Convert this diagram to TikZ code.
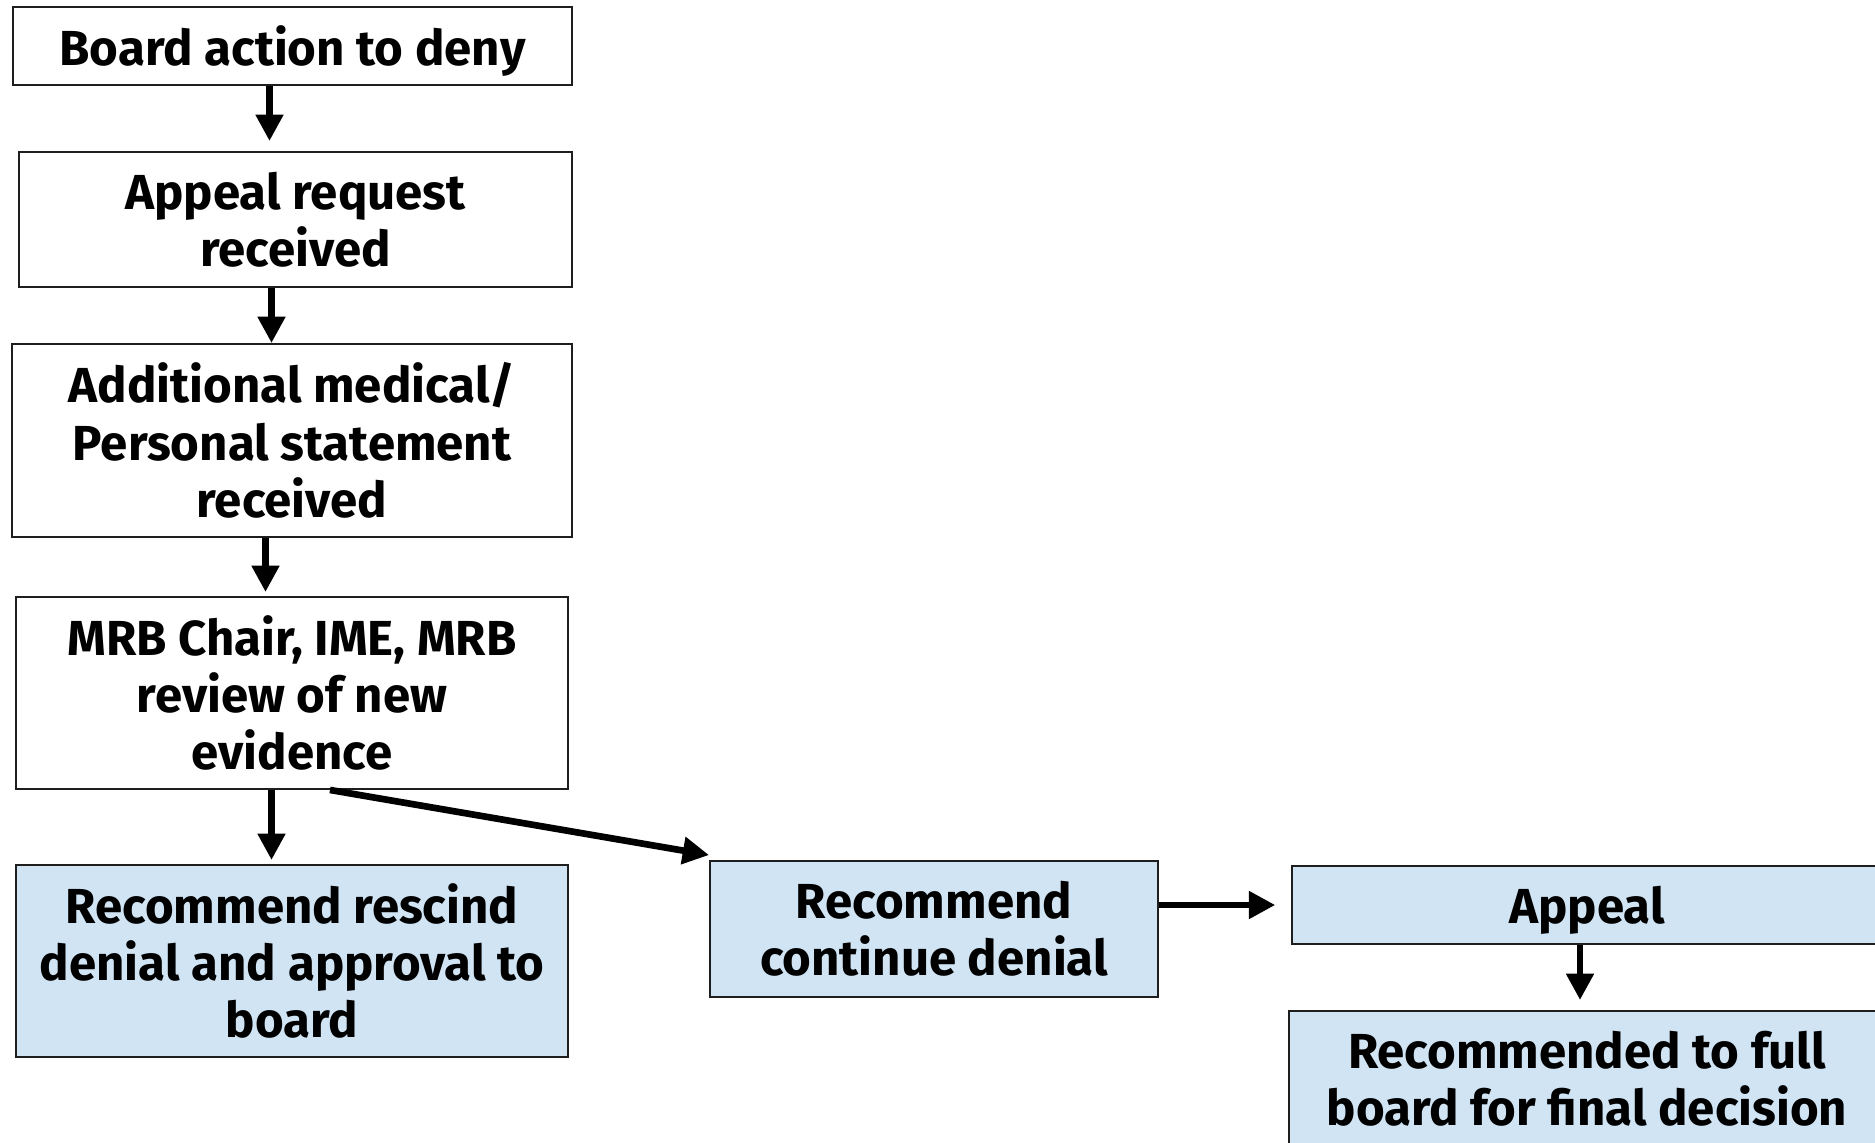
\documentclass[tikz,border=0pt]{standalone}
\usepackage{fontspec}
\setmainfont{Fira Sans}
\usetikzlibrary{arrows.meta,calc}
\definecolor{boxblue}{RGB}{208,228,244}
\definecolor{edge}{RGB}{30,30,30}
\tikzset{
  box/.style={draw=edge, line width=1.1pt, inner sep=0pt, align=center,
    font=\fontsize{28}{32.7}\selectfont\bfseries},
  bluebox/.style={box, fill=boxblue},
  arr/.style={line width=3.8pt, -{Triangle[width=15pt,length=15pt]}}
}
\begin{document}
\begin{tikzpicture}[x=0.02cm,y=-0.02cm]
\useasboundingbox (0,0) rectangle (1875,1142);
\clip (0,0) rectangle (1875,1142);
\node[box, minimum width=11.17cm, minimum height=1.554cm, text depth=0pt] (b1) at (292.5,46) {Board action to deny};
\node[box, minimum width=11.06cm, minimum height=2.70cm] (b2) at (295.5,219.5) {Appeal request\\received};
\node[box, minimum width=11.2cm, minimum height=3.86cm] (b3) at (292,440.5) {Additional medical/\\Personal statement\\received};
\node[box, minimum width=11.05cm, minimum height=3.84cm] (b4) at (292,693) {MRB Chair, IME, MRB\\review of new\\evidence};
\node[bluebox, minimum width=11.05cm, minimum height=3.84cm] (b5) at (292,961) {Recommend rescind\\denial and approval to\\board};
\node[bluebox, minimum width=8.96cm, minimum height=2.72cm] (b6) at (934,929) {Recommend\\continue denial};
\node[bluebox, minimum width=11.8cm, minimum height=1.56cm, text depth=0pt] (b7) at (1587,905) {Appeal};
\node[bluebox, minimum width=11.92cm, minimum height=2.72cm] (b8) at (1587,1079) {Recommended to full\\board for final decision};

\draw[arr, shorten >=5.7pt] ([xshift=-0.46cm]b1.south) -- ([xshift=-0.46cm]b1.south |- b2.north);
\draw[arr] ([xshift=-0.48cm]b2.south) -- ([xshift=-0.48cm]b2.south |- b3.north);
\draw[arr, shorten >=2.3pt] ([xshift=-0.53cm]b3.south) -- ([xshift=-0.53cm]b3.south |- b4.north);
\draw[arr, shorten >=2.3pt] ([xshift=-0.41cm]b4.south) -- ([xshift=-0.41cm]b4.south |- b5.north);
\draw[arr] ([xshift=0.76cm]b4.south) -- ($(b6.north west)+(0,-5)$);
\draw[arr, shorten >=9pt] (b6.east |- b7.west) -- (b7.west);
\draw[arr, shorten >=5.7pt] ([xshift=-0.14cm]b7.south) -- ([xshift=-0.14cm]b7.south |- b8.north);
\end{tikzpicture}
\end{document}
